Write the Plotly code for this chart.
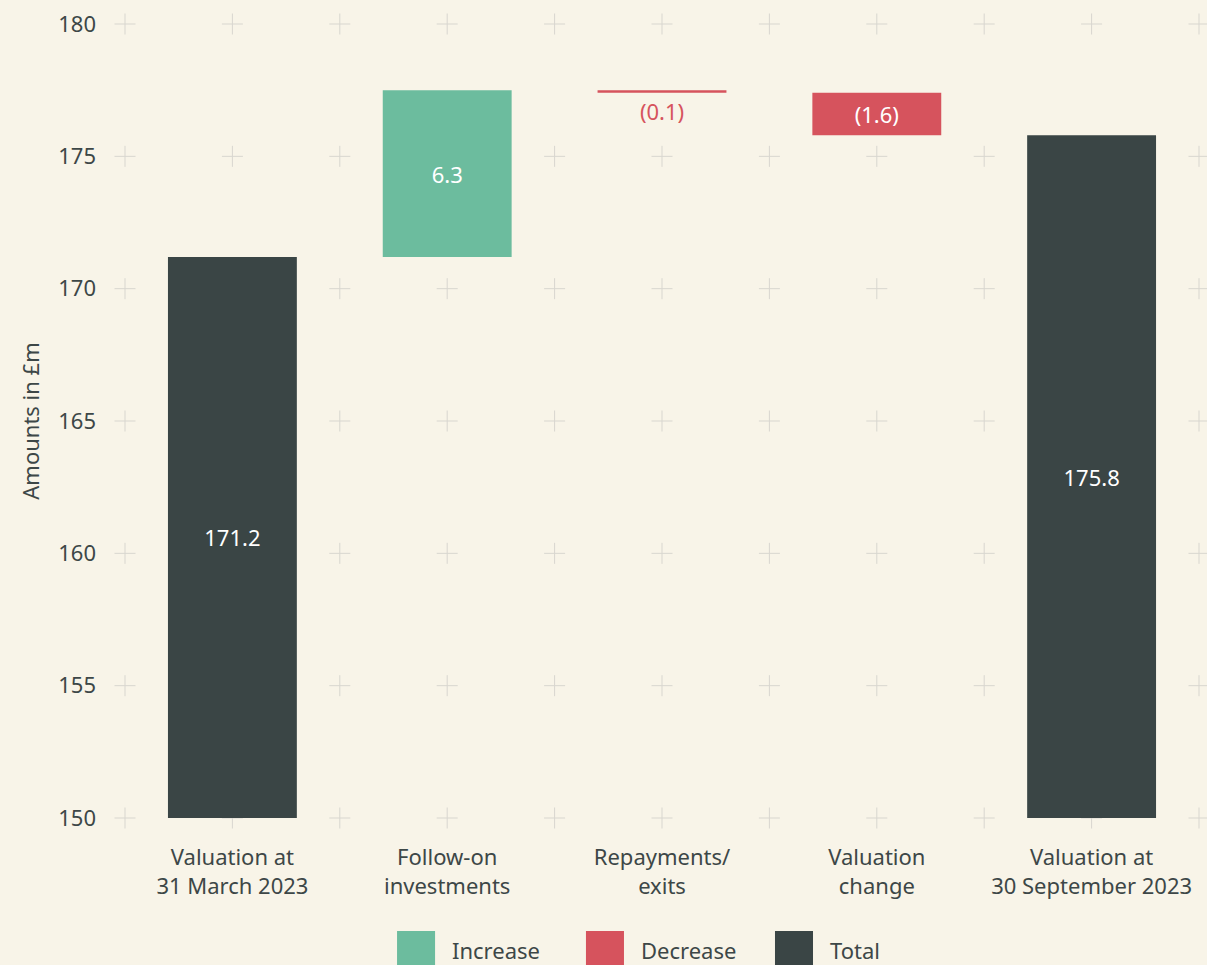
import numpy as np
import plotly.graph_objects as go

categories = ["Valuation at<br>31 March 2023", "Follow-on<br>investments",
              "Repayments/<br>exits", "Valuation<br>change",
              "Valuation at<br>30 September 2023"]
measures = ["total", "increase", "decrease", "decrease", "total"]
amounts = [171.2, 6.3, -0.1, -1.6, 175.8]
labels = ["171.2", "6.3", "(0.1)", "(1.6)", "175.8"]
y_ticks = [150, 155, 160, 165, 170, 175, 180]
axis_floor = y_ticks[0]

colors = {"increase": "#6cbc9e", "decrease": "#d6535d", "total": "#3a4545"}
names = {"increase": "Increase", "decrease": "Decrease", "total": "Total"}
bg = "#f8f4e8"
ink = "#3d4747"
font = "Noto Sans"

# running base for each step of the waterfall; totals start at the axis floor
bases, heights = [], []
running = 0
for m, a in zip(measures, amounts):
    if m == "total":
        bases.append(axis_floor)
        heights.append(a - axis_floor)
        running = a
    else:
        bases.append(running)
        heights.append(a)
        running += a

fig = go.Figure()

# "+" grid marks, sit on the base axes so the bars (on the overlay) cover them
gx, gy = np.meshgrid(np.arange(-0.5, len(categories), 0.5), y_ticks)
fig.add_trace(go.Scatter(
    x=gx.ravel(), y=gy.ravel(), mode="markers", cliponaxis=False,
    marker=dict(symbol="cross-thin", size=15, line=dict(width=1, color="#d8d6cf")),
    hoverinfo="skip", showlegend=False))

for kind in ["increase", "decrease", "total"]:
    idx = [i for i, m in enumerate(measures) if m == kind]
    fig.add_trace(go.Bar(
        x=idx,
        y=[heights[i] for i in idx],
        base=[bases[i] for i in idx],
        text=[labels[i] for i in idx],
        textposition=["outside" if abs(heights[i]) < 0.5 else "inside" for i in idx],
        insidetextanchor="middle",
        constraintext="none",
        textangle=0,
        insidetextfont=dict(family=font, size=22, color="white"),
        outsidetextfont=dict(family=font, size=22, color=colors[kind]),
        marker=dict(color=colors[kind], line=dict(width=0)),
        width=0.6,
        name=names[kind],
        xaxis="x2", yaxis="y2",
        showlegend=False))

fig.update_layout(
    width=1207, height=965,
    margin=dict(l=125, r=8, t=24, b=147),
    paper_bgcolor=bg, plot_bgcolor=bg,
    font=dict(family=font, size=22, color=ink),
    barmode="overlay",
    hovermode=False,
    xaxis=dict(range=[-0.5, len(categories) - 0.5], tickvals=list(range(len(categories))),
               ticktext=categories, showgrid=False, zeroline=False, showline=False,
               ticks="", ticklabelstandoff=24, tickfont=dict(size=22)),
    yaxis=dict(range=[150, 180], tickvals=y_ticks, showgrid=False, zeroline=False,
               showline=False, ticks="", ticklabelstandoff=28, tickfont=dict(size=22),
               title=dict(text="Amounts in £m", standoff=12, font=dict(size=22))),
    xaxis2=dict(overlaying="x", range=[-0.5, len(categories) - 0.5], visible=False),
    yaxis2=dict(overlaying="y", range=[150, 180], visible=False),
)

# hand-made legend with big square swatches
legend_x = [0.2533, 0.4292, 0.6052]
for lx, kind in zip(legend_x, ["increase", "decrease", "total"]):
    fig.add_shape(type="rect", xref="paper", yref="paper",
                  x0=lx, x1=lx + 0.0354, y0=-0.1423, y1=-0.195,
                  fillcolor=colors[kind], line=dict(width=0))
    fig.add_annotation(xref="paper", yref="paper", x=lx + 0.0495, y=-0.1662,
                       xanchor="left", yanchor="middle", showarrow=False,
                       text=names[kind], font=dict(family=font, size=22, color=ink))

fig.write_html("out.html", config={"displayModeBar": False},
               post_script="document.body.style.margin='0';")
